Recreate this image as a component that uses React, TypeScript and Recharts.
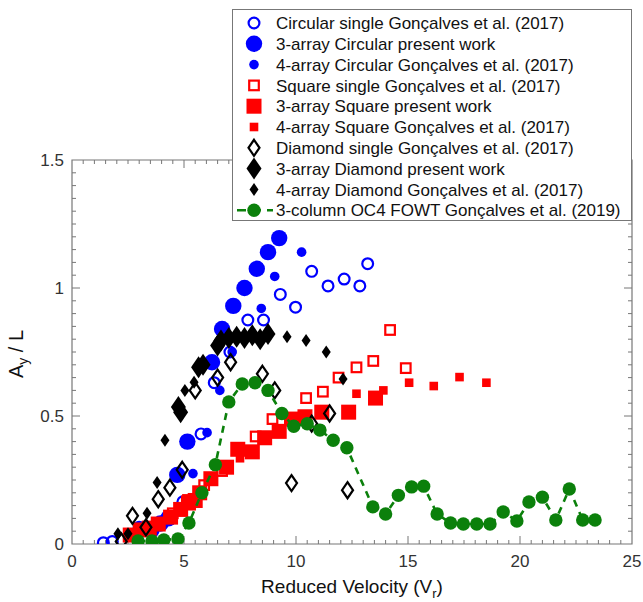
import { Label, Legend, ReferenceArea, ReferenceLine, Scatter, ScatterChart, XAxis, YAxis } from 'recharts';

// [Vr, Ay/L] pairs per data set
const CIRC_SINGLE = [
  [1.4, 0.005], [1.8, 0.01], [3.0, 0.065], [4.95, 0.165], [5.76, 0.43], [6.35, 0.63],
  [7.05, 0.75], [7.85, 0.875], [8.55, 0.875], [9.3, 0.975], [9.98, 0.925], [10.7, 1.065],
  [11.43, 1.008], [12.15, 1.035], [12.85, 1.008], [13.2, 1.095],
];
const CIRC_3ARRAY = [
  [3.55, 0.055], [3.95, 0.08], [4.3, 0.1], [4.7, 0.27], [5.15, 0.4], [6.25, 0.71],
  [6.7, 0.84], [7.2, 0.93], [7.7, 1.0], [8.25, 1.075], [8.75, 1.14], [9.25, 1.195],
];
const CIRC_4ARRAY = [
  [5.4, 0.275], [6.03, 0.435], [6.6, 0.6], [7.15, 0.75], [8.45, 0.92], [9.05, 1.045], [10.25, 1.14],
];
const SQ_SINGLE = [
  [4.5, 0.12], [5.18, 0.172], [5.9, 0.23], [6.7, 0.285], [8.2, 0.42], [8.95, 0.488],
  [10.45, 0.57], [11.2, 0.595], [11.9, 0.65], [12.7, 0.69], [13.45, 0.715], [14.2, 0.836], [14.9, 0.687],
];
const SQ_3ARRAY = [
  [2.6, 0.035], [3.05, 0.055], [3.45, 0.062], [3.85, 0.078], [4.4, 0.105], [4.85, 0.135],
  [5.2, 0.16], [5.5, 0.17], [5.7, 0.2], [6.2, 0.255], [6.9, 0.3], [7.4, 0.37], [8.05, 0.36],
  [8.6, 0.415], [9.25, 0.44], [9.8, 0.488], [10.4, 0.497], [11.15, 0.515], [12.35, 0.515], [13.55, 0.57],
];
const SQ_4ARRAY = [
  [7.5, 0.335], [12.7, 0.587], [13.9, 0.6], [15.05, 0.63], [16.15, 0.617], [17.3, 0.652], [18.5, 0.63],
];
const DIA_SINGLE = [
  [2.2, 0.01], [2.7, 0.11], [3.3, 0.065], [3.85, 0.175], [4.37, 0.22], [4.92, 0.29], [5.5, 0.6],
  [6.5, 0.65], [7.08, 0.71], [8.5, 0.665], [9.05, 0.6], [9.8, 0.238], [10.7, 0.47], [11.5, 0.51], [12.3, 0.21],
];
const DIA_3ARRAY = [
  [4.75, 0.535], [4.85, 0.515], [5.65, 0.69], [5.85, 0.7], [6.5, 0.775], [6.65, 0.795],
  [7.0, 0.805], [7.35, 0.81], [7.7, 0.805], [8.05, 0.815], [8.4, 0.8], [8.75, 0.82],
];
const DIA_4ARRAY = [
  [2.05, 0.04], [2.5, 0.04], [3.35, 0.12], [3.8, 0.24], [4.15, 0.405], [5.04, 0.6], [5.45, 0.632],
  [9.6, 0.81], [10.45, 0.795], [11.35, 0.75], [12.1, 0.645],
];
const OC4_FOWT = [
  [2.95, 0.012], [3.57, 0.012], [4.1, 0.016], [4.73, 0.02], [5.22, 0.082], [5.8, 0.2], [6.4, 0.31],
  [7.0, 0.555], [7.6, 0.625], [8.17, 0.63], [8.75, 0.6], [9.37, 0.51], [9.9, 0.46], [10.5, 0.47],
  [11.07, 0.445], [11.66, 0.405], [12.27, 0.376], [13.43, 0.145], [14.0, 0.117], [14.57, 0.19],
  [15.16, 0.223], [15.7, 0.226], [16.3, 0.117], [16.9, 0.082], [17.47, 0.078], [18.07, 0.078],
  [18.66, 0.078], [19.25, 0.125], [19.86, 0.09], [20.4, 0.164], [21.0, 0.183], [21.6, 0.094],
  [22.2, 0.215], [22.8, 0.094], [23.35, 0.094],
];

const X_TICKS = [0, 5, 10, 15, 20, 25];
const Y_TICKS = [0, 0.5, 1, 1.5];

const BLUE = '#0000ff';
const RED = '#ff0000';
const GREEN = '#0b800b';
const FRAME = '#777';
const FONT = '"Liberation Sans", Arial, Helvetica, sans-serif';

type MarkerKind =
  | 'circleOpen' | 'circleBig' | 'circleSmall'
  | 'squareOpen' | 'squareBig' | 'squareSmall'
  | 'diamondOpen' | 'diamondBig' | 'diamondSmall'
  | 'circleGreen';

function Marker({ kind, cx, cy }: { kind: MarkerKind; cx: number; cy: number }) {
  const dia = (w: number, h: number) =>
    `${cx},${cy - h / 2} ${cx + w / 2},${cy} ${cx},${cy + h / 2} ${cx - w / 2},${cy}`;
  switch (kind) {
    case 'circleOpen':
      return <circle cx={cx} cy={cy} r={5.4} fill="none" stroke={BLUE} strokeWidth={2.2} />;
    case 'circleBig':
      return <circle cx={cx} cy={cy} r={8.2} fill={BLUE} />;
    case 'circleSmall':
      return <circle cx={cx} cy={cy} r={4.8} fill={BLUE} />;
    case 'squareOpen':
      return <rect x={cx - 4.8} y={cy - 4.8} width={9.6} height={9.6} fill="none" stroke={RED} strokeWidth={2.2} />;
    case 'squareBig':
      return <rect x={cx - 7.5} y={cy - 7.5} width={15} height={15} fill={RED} />;
    case 'squareSmall':
      return <rect x={cx - 4.3} y={cy - 4.3} width={8.6} height={8.6} fill={RED} />;
    case 'diamondOpen':
      return <polygon points={dia(11, 16)} fill="none" stroke="#000" strokeWidth={2.2} />;
    case 'diamondBig':
      return <polygon points={dia(15, 22)} fill="#000" />;
    case 'diamondSmall':
      return <polygon points={dia(9, 13)} fill="#000" />;
    case 'circleGreen':
      return <circle cx={cx} cy={cy} r={6.7} fill={GREEN} />;
  }
}

const SERIES: { name: string; data: number[][]; kind: MarkerKind; line?: boolean }[] = [
  { name: 'Circular single Gonçalves et al. (2017)', data: CIRC_SINGLE, kind: 'circleOpen' },
  { name: '3-array Circular present work', data: CIRC_3ARRAY, kind: 'circleBig' },
  { name: '4-array Circular Gonçalves et al. (2017)', data: CIRC_4ARRAY, kind: 'circleSmall' },
  { name: 'Square single Gonçalves et al. (2017)', data: SQ_SINGLE, kind: 'squareOpen' },
  { name: '3-array Square present work', data: SQ_3ARRAY, kind: 'squareBig' },
  { name: '4-array Square Gonçalves et al. (2017)', data: SQ_4ARRAY, kind: 'squareSmall' },
  { name: 'Diamond single Gonçalves et al. (2017)', data: DIA_SINGLE, kind: 'diamondOpen' },
  { name: '3-array Diamond present work', data: DIA_3ARRAY, kind: 'diamondBig' },
  { name: '4-array Diamond Gonçalves et al. (2017)', data: DIA_4ARRAY, kind: 'diamondSmall' },
  { name: '3-column OC4 FOWT Gonçalves et al. (2019)', data: OC4_FOWT, kind: 'circleGreen', line: true },
];

const toPoints = (rows: number[][]) => rows.map(([x, y]) => ({ x, y }));

// inward tick marks, lengths in px converted to data units
const PLOT_W = 560;
const PLOT_H = 384;
const X_MAX = 25;
const Y_MAX = 1.5;
const dx = (px: number) => (px * X_MAX) / PLOT_W;
const dy = (px: number) => (px * Y_MAX) / PLOT_H;

const range = (step: number, max: number) => {
  const out: number[] = [];
  for (let i = 1; i * step < max - 1e-9; i++) out.push(+(i * step).toFixed(3));
  return out;
};
const xMinor = range(0.5, X_MAX);
const yMinor = range(0.05, Y_MAX);
const isMajor = (v: number, ticks: number[]) => ticks.some((t) => Math.abs(t - v) < 1e-6);

function tickSegments() {
  const segs: { x1: number; y1: number; x2: number; y2: number }[] = [];
  for (const v of xMinor) {
    const len = dy(isMajor(v, X_TICKS) ? 8 : 4);
    segs.push({ x1: v, y1: 0, x2: v, y2: len });
    segs.push({ x1: v, y1: Y_MAX, x2: v, y2: Y_MAX - len });
  }
  for (const v of yMinor) {
    const len = dx(isMajor(v, Y_TICKS) ? 8 : 4);
    segs.push({ x1: 0, y1: v, x2: len, y2: v });
    segs.push({ x1: X_MAX, y1: v, x2: X_MAX - len, y2: v });
  }
  return segs;
}

function LegendBox() {
  const rowH = 20.8;
  return (
    <div
      style={{
        width: 400,
        height: 212,
        boxSizing: 'border-box',
        border: `1px solid ${FRAME}`,
        background: '#fff',
      }}
    >
      <svg width={398} height={210} style={{ display: 'block' }}>
        {SERIES.map((s, i) => {
          const cy = 13 + i * rowH;
          return (
            <g key={s.name}>
              {s.line && (
                <line x1={4} x2={40} y1={cy} y2={cy} stroke={GREEN} strokeWidth={2.5} strokeDasharray="9 6" />
              )}
              <Marker kind={s.kind} cx={21} cy={cy} />
              <text x={43} y={cy} dy="0.36em" fontSize={17} fontFamily={FONT} fill="#111">
                {s.name}
              </text>
            </g>
          );
        })}
      </svg>
    </div>
  );
}

function XTitle({ viewBox }: any) {
  const { x, y, width } = viewBox;
  return (
    <text x={x + width / 2} y={y + 49} textAnchor="middle" fontSize={19} fontFamily={FONT} fill="#111">
      Reduced Velocity (V
      <tspan fontSize={13} dy={5}>r</tspan>
      <tspan dy={-5}>)</tspan>
    </text>
  );
}

function YTitle({ viewBox }: any) {
  const { y, height } = viewBox;
  const cx = 23;
  const cy = y + height / 2 + 2;
  return (
    <text
      x={cx}
      y={cy}
      transform={`rotate(-90 ${cx} ${cy})`}
      textAnchor="middle"
      fontSize={20}
      fontFamily={FONT}
      fill="#111"
    >
      A
      <tspan fontSize={14} dy={5}>y</tspan>
      <tspan dy={-5}> / L</tspan>
    </text>
  );
}

export default function App() {
  const tickStyle = { fontSize: 17, fontFamily: FONT, fill: '#333' };
  return (
    <div style={{ position: 'absolute', left: 0, top: 0, background: '#fff' }}>
      <ScatterChart width={643} height={602} margin={{ top: 160, right: 11, bottom: 0, left: 0 }}>
        <XAxis
          type="number"
          dataKey="x"
          domain={[0, X_MAX]}
          ticks={X_TICKS}
          tickLine={false}
          axisLine={false}
          tickSize={6}
          tickMargin={5}
          height={58}
          tick={tickStyle}
          allowDataOverflow
        >
          <Label content={XTitle} />
        </XAxis>
        <YAxis
          type="number"
          dataKey="y"
          domain={[0, Y_MAX]}
          ticks={Y_TICKS}
          tickLine={false}
          axisLine={false}
          tickSize={4}
          tickMargin={4}
          width={72}
          tick={tickStyle}
          allowDataOverflow
        >
          <Label content={YTitle} />
        </YAxis>
        <ReferenceArea x1={0} x2={X_MAX} y1={0} y2={Y_MAX} fill="none" stroke={FRAME} strokeWidth={1.2} />
        {tickSegments().map((s, i) => (
          <ReferenceLine
            key={i}
            segment={[{ x: s.x1, y: s.y1 }, { x: s.x2, y: s.y2 }]}
            stroke={FRAME}
            strokeWidth={1}
            ifOverflow="visible"
          />
        ))}
        {SERIES.map((s) => (
          <Scatter
            key={s.name}
            name={s.name}
            data={toPoints(s.data)}
            isAnimationActive={false}
            line={s.line ? { stroke: GREEN, strokeWidth: 2.6, strokeDasharray: '7 6' } : false}
            lineType="joint"
            shape={(p: any) => <Marker kind={s.kind} cx={p.cx} cy={p.cy} />}
          />
        ))}
        <Legend
          layout="vertical"
          align="center"
          verticalAlign="middle"
          content={() => <LegendBox />}
          wrapperStyle={{ left: 232, top: 9, width: 400, height: 212 }}
        />
      </ScatterChart>
    </div>
  );
}
